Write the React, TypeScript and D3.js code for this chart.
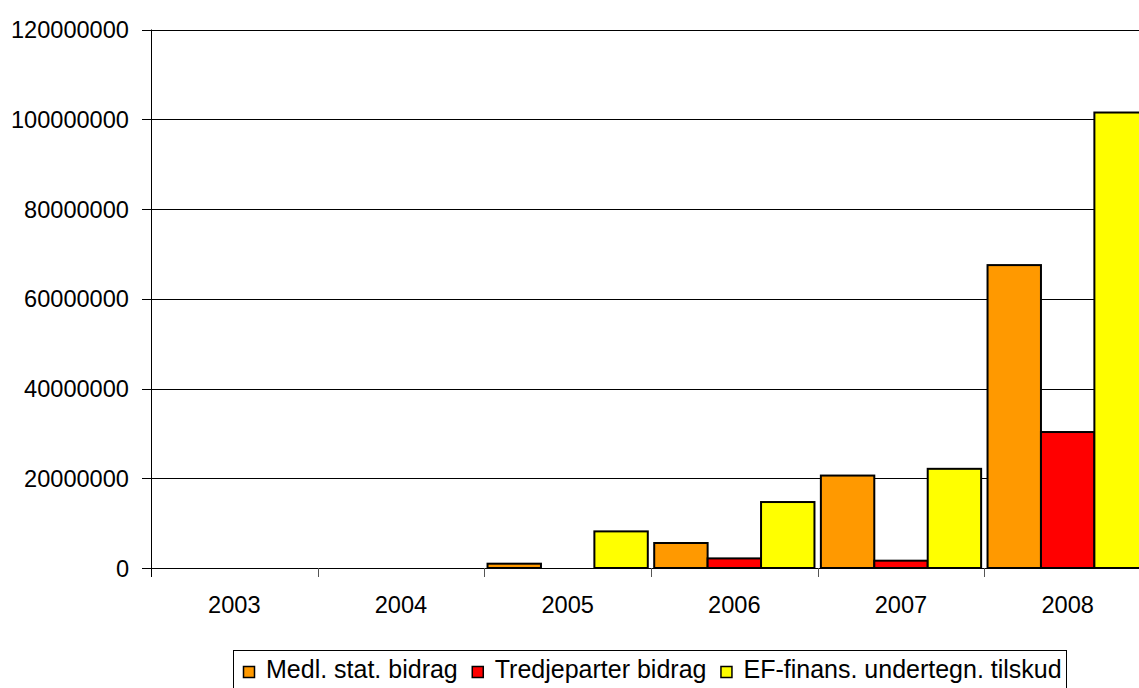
import { useEffect, useRef } from 'react';
import * as d3 from 'd3';

const years = ['2003', '2004', '2005', '2006', '2007', '2008'];
const seriesNames = ['Medl. stat. bidrag', 'Tredjeparter bidrag', 'EF-finans. undertegn. tilskud'];
const seriesColors = ['#FF9900', '#FF0000', '#FFFF00'];

// values per year
const medlStat = [0, 0, 960000, 5570000, 20600000, 67500000];
const tredjeparter = [0, 0, 0, 2140000, 1630000, 30300000];
const efFinans = [0, 0, 8160000, 14700000, 22100000, 101500000];

const yTicks = [0, 20000000, 40000000, 60000000, 80000000, 100000000, 120000000];

export default function App() {
  const svgRef = useRef<SVGSVGElement>(null);

  useEffect(() => {
    if (!svgRef.current) return;
    const svg = d3.select(svgRef.current);
    svg.selectAll('*').remove();

    const left = 151;
    const bottom = 568;
    const top = 29.5;
    const plotRight = 1151;
    const font = 'Arial, "Liberation Sans", sans-serif';

    const x = d3.scaleBand<string>().domain(years).range([left, plotRight]).padding(0);
    const x1 = d3.scaleBand<string>()
      .domain(seriesNames)
      .range([0, x.bandwidth()])
      .paddingInner(0)
      .paddingOuter(0.06);
    const y = d3.scaleLinear().domain([0, 120000000]).range([bottom, top]);

    const allSeries = [medlStat, tredjeparter, efFinans];

    // gridlines
    svg.append('g')
      .selectAll('line')
      .data(yTicks)
      .enter()
      .append('line')
      .attr('x1', left - 9)
      .attr('x2', 1139)
      .attr('y1', d => Math.round(y(d)) + 0.5)
      .attr('y2', d => Math.round(y(d)) + 0.5)
      .attr('stroke', '#000')
      .attr('stroke-width', 1);

    // y labels
    svg.append('g')
      .selectAll('text')
      .data(yTicks)
      .enter()
      .append('text')
      .attr('x', 129)
      .attr('y', d => y(d) + 8.5)
      .attr('text-anchor', 'end')
      .attr('font-family', font)
      .attr('font-size', 23.6)
      .attr('fill', '#000')
      .text(d => String(d));

    // bars
    years.forEach((yr, i) => {
      seriesNames.forEach((s, j) => {
        const v = allSeries[j][i];
        if (v <= 0) return;
        svg.append('rect')
          .attr('x', (x(yr) ?? 0) + (x1(s) ?? 0))
          .attr('y', y(v))
          .attr('width', x1.bandwidth())
          .attr('height', bottom - y(v))
          .attr('fill', seriesColors[j])
          .attr('stroke', '#000')
          .attr('stroke-width', 2);
      });
    });

    // y axis line
    svg.append('line')
      .attr('x1', left + 0.5).attr('x2', left + 0.5)
      .attr('y1', top).attr('y2', bottom + 9)
      .attr('stroke', '#000');

    // x axis line
    svg.append('line')
      .attr('x1', left).attr('x2', 1139)
      .attr('y1', bottom + 0.5).attr('y2', bottom + 0.5)
      .attr('stroke', '#000');

    // x ticks at band boundaries
    svg.append('g')
      .selectAll('line')
      .data(years.slice(1))
      .enter()
      .append('line')
      .attr('x1', d => Math.round(x(d) ?? 0) + 0.5)
      .attr('x2', d => Math.round(x(d) ?? 0) + 0.5)
      .attr('y1', bottom)
      .attr('y2', bottom + 9)
      .attr('stroke', '#555');

    // x labels
    svg.append('g')
      .selectAll('text')
      .data(years)
      .enter()
      .append('text')
      .attr('x', d => (x(d) ?? 0) + x.bandwidth() / 2)
      .attr('y', 613)
      .attr('text-anchor', 'middle')
      .attr('font-family', font)
      .attr('font-size', 23.6)
      .attr('fill', '#000')
      .text(d => d);

    // legend
    const legend = svg.append('g');
    legend.append('rect')
      .attr('x', 233.5)
      .attr('y', 650.5)
      .attr('width', 833)
      .attr('height', 60)
      .attr('fill', '#fff')
      .attr('stroke', '#000');

    let cx = 243;
    seriesNames.forEach((s, j) => {
      legend.append('rect')
        .attr('x', cx + 0.5)
        .attr('y', 666.5)
        .attr('width', 11)
        .attr('height', 11)
        .attr('fill', seriesColors[j])
        .attr('stroke', '#000')
        .attr('stroke-width', 1.5);
      const t = legend.append('text')
        .attr('x', cx + 23)
        .attr('y', 678)
        .attr('font-family', font)
        .attr('font-size', 25)
        .attr('fill', '#000')
        .text(s);
      const w = (t.node() as SVGTextElement).getComputedTextLength();
      cx = cx + 23 + w + 14;
    });
  }, []);

  return (
    <div>
      <style>{`body { margin: 0; }`}</style>
      <svg ref={svgRef} width={1139} height={688} style={{ display: 'block', background: '#fff' }} />
    </div>
  );
}
